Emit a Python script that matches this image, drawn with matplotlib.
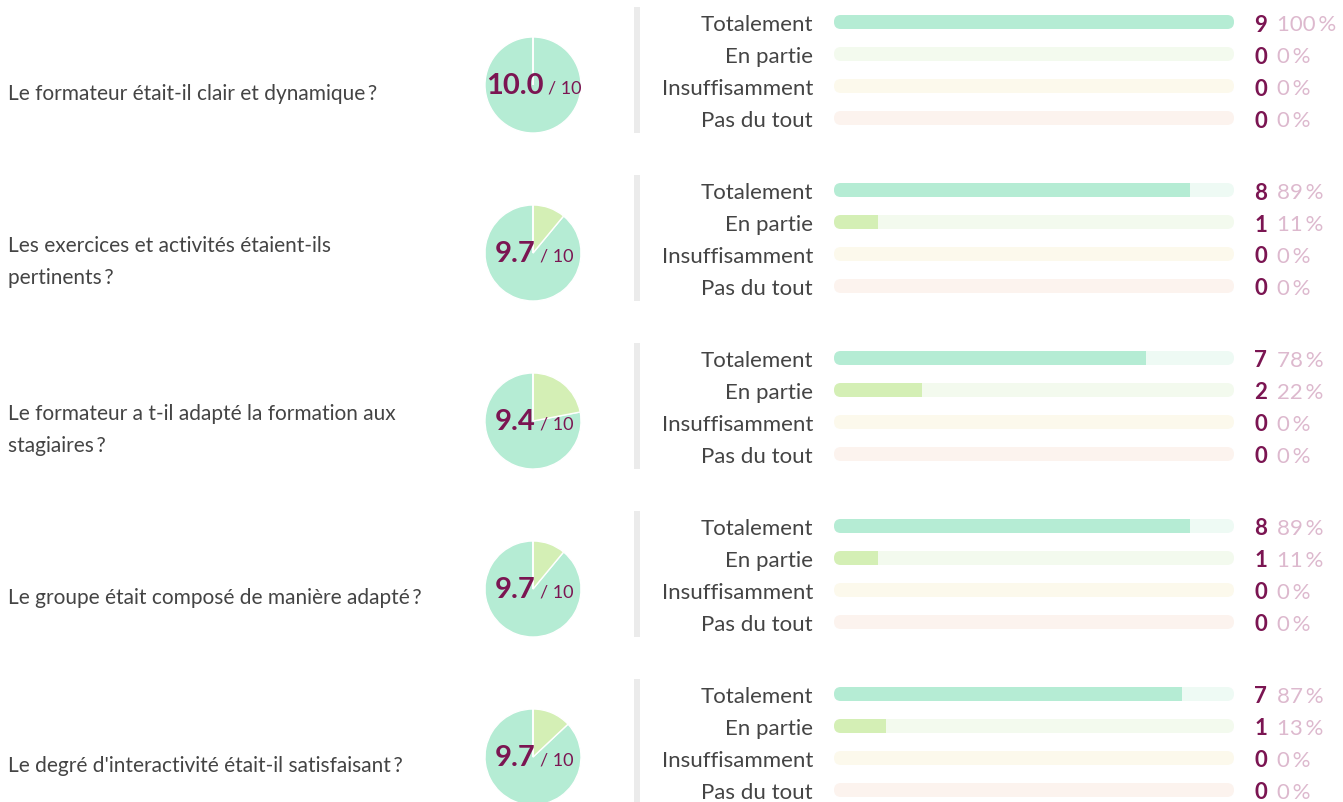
import matplotlib
matplotlib.use("Agg")
import matplotlib.pyplot as plt
from matplotlib.patches import FancyBboxPatch
from matplotlib.offsetbox import TextArea, HPacker, AnnotationBbox

plt.rcParams['font.family'] = ['Lato', 'DejaVu Sans']

# ---------------- données ----------------
questions = [
    "Le formateur était-il clair et dynamique\u2009?",
    "Les exercices et activités étaient-ils\npertinents\u2009?",
    "Le formateur a t-il adapté la formation aux\nstagiaires\u2009?",
    "Le groupe était composé de manière adapté\u2009?",
    "Le degré d'interactivité était-il satisfaisant\u2009?",
]
answers = ["Totalement", "En partie", "Insuffisamment", "Pas du tout"]
scores = [10.0, 9.7, 9.4, 9.7, 9.7]
counts = [[9, 0, 0, 0], [8, 1, 0, 0], [7, 2, 0, 0], [8, 1, 0, 0], [7, 1, 0, 0]]
percents = [[100, 0, 0, 0], [89, 11, 0, 0], [78, 22, 0, 0], [89, 11, 0, 0], [87, 13, 0, 0]]

fill_colors = ['#b5ecd4', '#d4efb5', '#f3ecb5', '#f5d3c3']
track_colors = ['#eefaf4', '#f3faee', '#fcf9ec', '#fcf3ee']
magenta = '#7b1552'
pink = '#ddb9ce'

# ---------------- mise en page (pixels) ----------------
W, H = 1343, 803
block_h = 168
row_h = 32
bar_x0, bar_len, bar_h = 834, 400, 14
dy = 2  # petit décalage vertical du texte

fig = plt.figure(figsize=(W / 100, H / 100), dpi=100)
ax = fig.add_axes([0, 0, 1, 1])
ax.set_xlim(0, W)
ax.set_ylim(H, 0)

for i, q in enumerate(questions):
    y0 = i * block_h

    # question
    ax.text(8, y0 + 92 + dy, q, ha='left', va='center', fontsize=15,
            color='#444444', linespacing=1.8)

    # camembert
    ax.pie(percents[i], colors=fill_colors, startangle=-90, counterclock=False,
           radius=48, center=(533, y0 + 86), frame=True,
           wedgeprops=dict(edgecolor='white', linewidth=1))

    # note
    big = TextArea(f"{scores[i]:.1f}",
                   textprops=dict(fontsize=21, color=magenta, fontweight='bold'))
    small = TextArea("/ 10", textprops=dict(fontsize=13, color=magenta))
    pack = HPacker(children=[big, small], align='baseline', pad=0, sep=3)
    ax.add_artist(AnnotationBbox(pack, (534, y0 + 86), frameon=False,
                                 box_alignment=(0.5, 0.5), pad=0))

    # séparateur gris
    ax.plot([637, 637], [y0 + 8, y0 + 134], lw=4.3, color='#ebebeb',
            solid_capstyle='butt')

    # barres
    for j, ans in enumerate(answers):
        yc = y0 + 23 + j * row_h
        ax.text(813, yc + dy, ans, ha='right', va='center', fontsize=16,
                color='#444444')
        track = FancyBboxPatch((bar_x0, yc - bar_h / 2), bar_len, bar_h,
                               boxstyle='round,pad=0,rounding_size=7',
                               fc=track_colors[j], ec='none')
        ax.add_patch(track)
        bars = ax.barh(yc, percents[i][j] * bar_len / 100, left=bar_x0,
                       height=bar_h, color=fill_colors[j])
        for b in bars:
            b.set_clip_path(track)
        ax.text(1267, yc + dy, str(counts[i][j]), ha='right', va='center',
                fontsize=16, color=magenta, fontweight='bold')
        ax.text(1277, yc + dy, f"{percents[i][j]}\u2009%", ha='left', va='center',
                fontsize=16, color=pink)

ax.set_xlim(0, W)
ax.set_ylim(H, 0)
ax.axis('off')
fig.savefig('out.png', dpi=100)
